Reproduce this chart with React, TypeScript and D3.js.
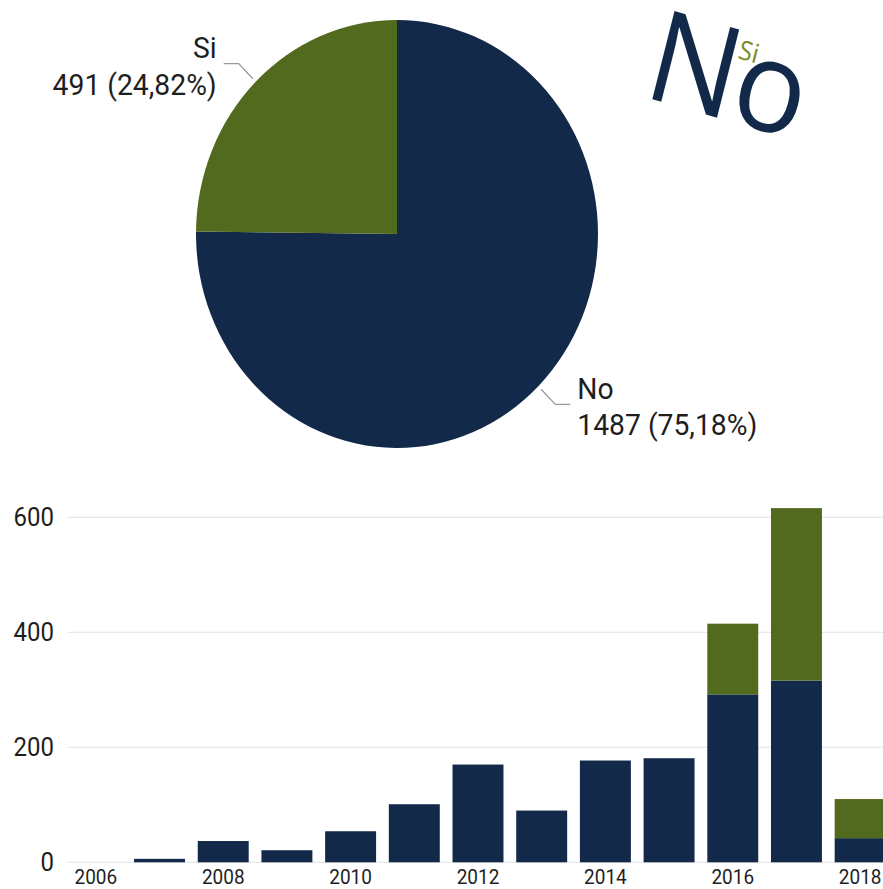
import React, { useEffect, useRef } from 'react';
import * as d3 from 'd3';

// pie totals
const pieLabels = ['No', 'Si'];
const pieValues = [1487, 491];
const piePercents = ['75,18%', '24,82%'];

// bars per year
const years = ['2006', '2007', '2008', '2009', '2010', '2011', '2012', '2013', '2014', '2015', '2016', '2017', '2018'];
const noValues = [0, 6, 37, 21, 54, 101, 170, 90, 177, 181, 292, 316, 42];
const siValues = [0, 0, 0, 0, 0, 0, 0, 0, 0, 0, 123, 300, 68];
const yTicks = [0, 200, 400, 600];
const xTickLabels = ['2006', '2008', '2010', '2012', '2014', '2016', '2018'];

// word cloud words (size follows the pie totals)
const cloudWords = ['No', 'Si'];

const NAVY = '#12294a';
const GREEN = '#526a1e';
const CLOUD_SI = '#7c8a2c';
const FONT = 'Roboto, sans-serif';
const STRETCH = 1.065;

const W = 883;
const H = 889;

const App: React.FC = () => {
  const svgRef = useRef<SVGSVGElement>(null);

  useEffect(() => {
    if (!svgRef.current) return;
    const svg = d3.select(svgRef.current);
    svg.selectAll('*').remove();

    // ---------- Pie ----------
    const cx = 397;
    const cy = 234;
    const rx = 201;
    const ry = 214;

    const pie = d3.pie<number>().sort(null).startAngle(0).endAngle(2 * Math.PI);
    const arcs = pie(pieValues);
    const arc = d3.arc<d3.PieArcDatum<number>>().innerRadius(0).outerRadius(rx);

    const pieG = svg.append('g')
      .attr('transform', `translate(${cx},${cy}) scale(1,${ry / rx})`);
    pieG.selectAll('path')
      .data(arcs)
      .join('path')
      .attr('d', arc)
      .attr('fill', (_d, i) => (i === 0 ? NAVY : GREEN))
      .attr('stroke', 'none');

    // labels with leader lines
    arcs.forEach((d, i) => {
      const mid = (d.startAngle + d.endAngle) / 2;
      const sx = Math.sin(mid);
      const sy = -Math.cos(mid);
      const p0: [number, number] = [cx + sx * rx * 1.02, cy + sy * ry * 1.02];
      const p1: [number, number] = [cx + sx * rx * 1.12, cy + sy * ry * 1.12];
      const dir = sx >= 0 ? 1 : -1;
      const p2: [number, number] = [p1[0] + dir * 15, p1[1]];
      svg.append('polyline')
        .attr('points', [p0, p1, p2].map(p => p.join(',')).join(' '))
        .attr('fill', 'none')
        .attr('stroke', '#9a9a9a')
        .attr('stroke-width', 1.3);

      const tx = p2[0] + dir * 7;
      const anchor = dir > 0 ? 'start' : 'end';
      const lines = [pieLabels[i], `${pieValues[i]} (${piePercents[i]})`];
      const offsets = [-5.5, 31];
      lines.forEach((t, k) => {
        svg.append('text')
          .attr('transform', `translate(${tx},${p1[1] + offsets[k]}) scale(1,${STRETCH})`)
          .attr('text-anchor', anchor)
          .style('font-family', FONT)
          .style('font-size', '28.3px')
          .style('fill', '#1e1e1e')
          .text(t);
      });
    });

    // ---------- Word cloud ----------
    const sizeScale = d3.scaleSqrt().domain([0, d3.max(pieValues) as number]).range([0, 120]);
    svg.append('g')
      .attr('transform', `translate(641,96) scale(1,${STRETCH}) rotate(15)`)
      .append('text')
      .style('font-family', '"Open Sans", sans-serif')
      .style('font-size', `${sizeScale(pieValues[0])}px`)
      .style('fill', NAVY)
      .style('letter-spacing', '-2px')
      .text(cloudWords[0]);
    svg.append('g')
      .attr('transform', `translate(737,58) scale(1,${STRETCH}) rotate(15)`)
      .append('text')
      .style('font-family', '"Open Sans", sans-serif')
      .style('font-size', '25px')
      .style('fill', CLOUD_SI)
      .text(cloudWords[1]);

    // ---------- Stacked bars ----------
    const x = d3.scaleBand<string>()
      .domain(years)
      .range([64, 892])
      .paddingInner(0.2)
      .paddingOuter(0.1);
    const y = d3.scaleLinear().domain([0, 600]).range([862.3, 517.3]);

    svg.append('g').selectAll('line')
      .data(yTicks)
      .join('line')
      .attr('x1', 67.5)
      .attr('x2', W)
      .attr('y1', d => y(d))
      .attr('y2', d => y(d))
      .attr('stroke', '#e8e8e8')
      .attr('stroke-width', 1.2);

    svg.append('g').selectAll('text')
      .data(yTicks)
      .join('text')
      .attr('transform', d => `translate(54,${y(d)}) scale(1,${STRETCH})`)
      .attr('text-anchor', 'end')
      .attr('dominant-baseline', 'central')
      .style('font-family', FONT)
      .style('font-size', '24px')
      .style('fill', '#1e1e1e')
      .text(d => String(d));

    const stackData = years.map((yr, i) => ({ year: yr, No: noValues[i], Si: siValues[i] }));
    const series = d3.stack<{ year: string; No: number; Si: number }>().keys(['No', 'Si'])(stackData);

    svg.append('g').selectAll('g')
      .data(series)
      .join('g')
      .attr('fill', (_d, i) => (i === 0 ? NAVY : GREEN))
      .selectAll('rect')
      .data(d => d.filter(v => v[1] - v[0] > 0))
      .join('rect')
      .attr('x', d => x(d.data.year) as number)
      .attr('width', x.bandwidth())
      .attr('y', d => y(d[1]))
      .attr('height', d => y(d[0]) - y(d[1]));

    svg.append('g').selectAll('text')
      .data(xTickLabels)
      .join('text')
      .attr('transform', d => `translate(${(x(d) as number) + x.bandwidth() / 2},884) scale(1,${STRETCH})`)
      .attr('text-anchor', 'middle')
      .style('font-family', FONT)
      .style('font-size', '19px')
      .style('fill', '#1e1e1e')
      .text(d => d);
  }, []);

  return (
    <div style={{ position: 'absolute', left: 0, top: 0, width: W, height: H, background: '#fff' }}>
      <svg ref={svgRef} width={W} height={H} style={{ display: 'block' }}></svg>
    </div>
  );
};

export default App;
